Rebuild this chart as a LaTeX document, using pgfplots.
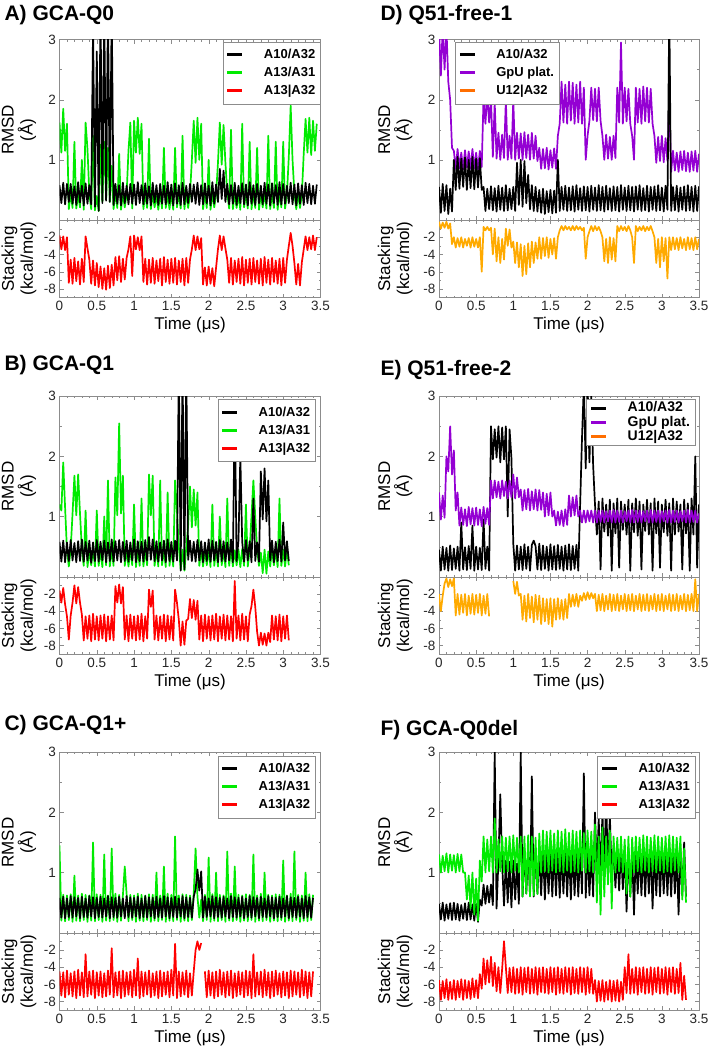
\documentclass[border=0pt]{standalone}
\usepackage{fontspec}
\setmainfont{Liberation Sans}
\usepackage{pgfplots}
\usepackage{pgfplotstable}
\pgfplotsset{compat=1.18}

\definecolor{grn}{RGB}{0,235,0}
\definecolor{pur}{RGB}{148,0,211}
\definecolor{org}{RGB}{255,170,0}
\definecolor{orgleg}{RGB}{255,110,0}
\definecolor{frame}{RGB}{140,140,140}

% columns: t = time (us), a = black RMSD, b = green/purple RMSD, c = stacking
\pgfplotstableread{
t a b c
0.000 0.58 1.62 -1.8
0.025 0.28 1.12 -3.4
0.050 0.62 1.85 -1.9
0.075 0.26 1.15 -3.5
0.100 0.60 1.60 -2.0
0.125 0.30 0.18 -7.3
0.150 0.60 0.45 -4.6
0.175 0.27 0.20 -7.4
0.200 0.56 1.30 -4.4
0.225 0.25 0.19 -7.1
0.250 0.63 0.42 -4.8
0.275 0.29 0.21 -7.5
0.300 0.57 1.00 -4.5
0.325 0.24 0.17 -7.2
0.350 0.61 1.62 -1.9
0.375 0.27 1.18 -3.3
0.400 0.58 0.44 -4.6
0.425 0.26 0.18 -7.4
0.450 3.20 1.40 -4.7
0.475 0.22 0.16 -7.6
0.500 2.80 0.40 -5.0
0.525 0.15 0.15 -7.8
0.550 3.50 1.25 -5.4
0.575 0.28 0.30 -8.0
0.600 3.50 1.30 -5.6
0.625 0.32 0.35 -8.1
0.650 3.50 1.20 -5.3
0.675 0.30 0.30 -7.9
0.700 3.50 0.90 -5.2
0.725 0.25 0.18 -7.6
0.750 0.60 0.46 -4.3
0.775 0.27 0.20 -7.0
0.800 0.58 1.10 -4.2
0.825 0.24 0.17 -7.2
0.850 0.62 0.44 -4.5
0.875 0.28 0.21 -6.9
0.900 0.57 0.43 -4.4
0.925 0.26 1.15 -3.4
0.950 0.60 1.62 -1.9
0.975 0.27 0.19 -6.5
1.000 0.59 1.65 -1.8
1.025 0.25 1.12 -3.4
1.050 0.63 1.70 -2.0
1.075 0.28 1.10 -3.5
1.100 0.58 1.60 -1.9
1.125 0.26 0.18 -7.2
1.150 0.61 0.45 -4.5
1.175 0.27 0.20 -7.5
1.200 0.56 1.35 -4.6
1.225 0.24 0.18 -7.3
1.250 0.62 0.44 -4.4
1.275 0.29 0.21 -7.4
1.300 0.58 0.42 -4.7
1.325 0.25 0.17 -7.1
1.350 0.60 0.46 -4.5
1.375 0.27 0.19 -7.6
1.400 0.57 1.20 -4.3
1.425 0.26 0.20 -7.2
1.450 0.63 0.43 -4.6
1.475 0.28 0.18 -7.4
1.500 0.59 0.45 -4.5
1.525 0.24 0.17 -7.3
1.550 0.61 1.20 -4.4
1.575 0.27 0.21 -7.5
1.600 0.58 0.44 -4.7
1.625 0.25 0.19 -7.2
1.650 0.62 1.40 -4.5
1.675 0.26 0.18 -7.6
1.700 0.57 0.45 -4.4
1.725 0.28 0.20 -7.3
1.750 0.60 0.43 -4.6
1.775 0.30 1.00 -3.4
1.800 0.59 1.65 -1.8
1.825 0.27 0.95 -3.5
1.850 0.62 1.70 -1.9
1.875 0.25 1.00 -3.4
1.900 0.58 1.60 -2.1
1.925 0.26 0.18 -7.5
1.950 0.61 0.44 -5.5
1.975 0.28 0.20 -7.6
2.000 0.57 1.00 -5.4
2.025 0.24 0.17 -7.4
2.050 0.63 0.45 -5.6
2.075 0.27 0.21 -7.7
2.100 0.59 0.43 -5.5
2.125 0.30 0.95 -3.4
2.150 0.85 1.62 -1.8
2.175 0.35 0.92 -3.5
2.200 0.82 1.58 -1.9
2.225 0.30 0.95 -3.3
2.250 0.60 0.44 -4.6
2.275 0.26 0.19 -7.3
2.300 0.58 1.50 -4.4
2.325 0.27 0.18 -7.5
2.350 0.62 0.45 -4.7
2.375 0.25 0.20 -7.2
2.400 0.57 0.42 -4.5
2.425 0.28 0.17 -7.4
2.450 0.61 1.60 -4.3
2.475 0.26 0.21 -7.6
2.500 0.59 0.44 -4.6
2.525 0.24 0.19 -7.3
2.550 0.63 1.30 -4.5
2.575 0.27 0.18 -7.5
2.600 0.58 0.46 -4.4
2.625 0.25 0.20 -7.2
2.650 0.60 1.20 -4.7
2.675 0.28 0.17 -7.4
2.700 0.57 0.43 -4.5
2.725 0.26 0.21 -7.6
2.750 0.62 0.45 -4.3
2.775 0.27 0.19 -7.3
2.800 0.59 1.40 -4.6
2.825 0.24 0.18 -7.5
2.850 0.61 0.44 -4.4
2.875 0.28 0.20 -7.2
2.900 0.58 1.30 -4.7
2.925 0.25 0.17 -7.4
2.950 0.63 0.45 -4.5
2.975 0.26 0.21 -7.6
3.000 0.60 1.30 -4.4
3.025 0.27 0.19 -7.3
3.050 0.57 0.43 -4.6
3.075 0.28 1.05 -3.0
3.100 0.62 1.90 -1.5
3.125 0.26 1.00 -3.0
3.150 0.59 0.44 -5.0
3.175 0.24 0.18 -7.5
3.200 0.61 0.45 -5.1
3.225 0.27 0.20 -7.6
3.250 0.58 0.43 -4.9
3.275 0.25 1.10 -3.4
3.300 0.62 1.68 -1.9
3.325 0.28 1.12 -3.5
3.350 0.60 1.70 -2.0
3.375 0.26 1.08 -3.4
3.400 0.57 1.65 -1.8
3.425 0.27 1.15 -3.5
3.450 0.59 1.60 -2.0
}\tA

\pgfplotstableread{
t a b c
0.000 0.58 1.20 -1.6
0.025 0.25 1.10 -3.0
0.050 0.60 1.90 -1.3
0.075 0.24 1.15 -3.2
0.100 0.57 0.44 -4.6
0.125 0.26 0.17 -7.3
0.150 0.61 0.46 -4.5
0.175 0.27 1.05 -3.0
0.200 0.56 1.68 -1.0
0.225 0.24 1.02 -3.1
0.250 0.59 1.70 -1.2
0.275 0.26 1.05 -3.0
0.300 0.62 0.45 -4.4
0.325 0.25 0.18 -7.4
0.350 0.58 1.10 -4.6
0.375 0.27 0.16 -7.2
0.400 0.60 0.43 -4.5
0.425 0.23 0.19 -7.5
0.450 0.57 0.46 -4.3
0.475 0.26 0.17 -7.3
0.500 0.61 1.10 -4.6
0.525 0.25 0.18 -7.4
0.550 0.58 0.44 -4.5
0.575 0.27 0.16 -7.2
0.600 0.60 1.00 -4.4
0.625 0.24 0.19 -7.5
0.650 0.57 1.60 -4.6
0.675 0.26 0.17 -7.3
0.700 0.62 0.45 -4.5
0.725 0.25 0.18 -7.4
0.750 0.59 1.65 -1.1
0.775 0.27 1.02 -3.0
0.800 0.61 2.55 -0.9
0.825 0.24 1.05 -3.1
0.850 0.58 1.68 -1.2
0.875 0.26 0.18 -7.3
0.900 0.60 0.44 -4.5
0.925 0.25 0.17 -7.5
0.950 0.57 0.46 -4.4
0.975 0.27 0.19 -7.2
1.000 0.62 1.20 -4.6
1.025 0.24 0.16 -7.4
1.050 0.59 0.45 -4.5
1.075 0.26 0.18 -7.3
1.100 0.58 1.30 -4.3
1.125 0.25 0.17 -7.5
1.150 0.61 0.44 -4.6
1.175 0.27 0.19 -7.2
1.200 0.66 1.70 -1.5
1.225 0.28 1.02 -3.5
1.250 0.62 1.68 -1.6
1.275 0.26 0.18 -7.3
1.300 0.59 0.45 -4.5
1.325 0.25 0.17 -7.4
1.350 0.57 1.60 -4.6
1.375 0.27 0.19 -7.2
1.400 0.60 0.44 -4.4
1.425 0.24 0.16 -7.5
1.450 0.62 1.40 -4.5
1.475 0.26 0.18 -7.3
1.500 0.58 0.46 -4.6
1.525 0.25 0.17 -7.4
1.550 0.60 1.60 -1.5
1.575 0.27 1.10 -3.0
1.600 3.50 0.50 -5.0
1.625 0.10 0.12 -8.0
1.650 3.50 0.45 -5.2
1.675 0.12 0.10 -7.9
1.700 3.50 0.48 -5.1
1.725 0.28 0.85 -4.9
1.750 0.60 1.50 -2.6
1.775 0.26 0.82 -4.8
1.800 0.58 1.45 -2.7
1.825 0.25 0.85 -5.0
1.850 0.61 1.40 -2.8
1.875 0.27 0.18 -7.3
1.900 0.59 0.45 -4.5
1.925 0.24 0.17 -7.5
1.950 0.57 0.44 -4.4
1.975 0.26 0.19 -7.2
2.000 0.62 0.46 -4.6
2.025 0.25 0.16 -7.4
2.050 0.60 1.20 -4.5
2.075 0.27 0.18 -7.3
2.100 0.58 0.45 -4.3
2.125 0.24 0.17 -7.5
2.150 0.61 1.00 -4.6
2.175 0.26 0.19 -7.2
2.200 0.59 0.44 -4.4
2.225 0.25 0.16 -7.4
2.250 0.57 1.30 -4.5
2.275 0.27 0.18 -7.3
2.300 0.62 0.46 -4.6
2.325 0.24 0.17 -7.5
2.350 2.90 0.44 -0.5
2.375 0.26 0.19 -7.2
2.400 0.60 0.45 -4.5
2.425 2.00 0.16 -7.4
2.450 0.58 0.46 -4.3
2.475 0.25 0.18 -7.3
2.500 0.61 1.20 -4.6
2.525 0.27 0.17 -7.5
2.550 0.59 0.44 -4.4
2.575 0.24 1.02 -3.4
2.600 1.30 1.60 -1.5
2.625 0.26 1.00 -3.5
2.650 0.57 0.45 -6.4
2.675 0.25 0.18 -8.0
2.700 1.75 0.40 -6.5
2.725 0.95 0.06 -7.9
2.750 1.80 0.45 -6.6
2.775 0.92 0.05 -8.0
2.800 1.60 0.42 -6.5
2.825 0.27 0.17 -7.6
2.850 0.60 0.46 -4.5
2.875 0.24 0.19 -7.3
2.900 0.58 0.44 -4.6
2.925 0.26 0.16 -7.4
2.950 0.62 1.30 -4.4
2.975 0.25 0.18 -7.5
3.000 0.90 0.45 -4.6
3.025 0.27 0.17 -7.2
3.050 0.59 0.46 -4.5
3.075 0.26 0.19 -7.4
}\tB

\pgfplotstableread{
t a b c
0.000 0.58 1.45 -4.5
0.025 0.25 0.20 -7.3
0.050 0.60 0.63 -4.6
0.075 0.24 0.19 -7.5
0.100 0.57 0.62 -4.4
0.125 0.26 0.21 -7.2
0.150 0.61 0.64 -4.7
0.175 0.25 0.18 -7.4
0.200 0.59 0.95 -4.5
0.225 0.27 0.20 -7.6
0.250 0.58 0.62 -4.3
0.275 0.24 0.19 -7.3
0.300 0.60 0.65 -4.6
0.325 0.26 0.21 -7.5
0.350 0.57 0.63 -2.5
0.375 0.25 0.18 -7.4
0.400 0.61 0.62 -4.5
0.425 0.27 0.20 -7.2
0.450 0.59 1.50 -4.4
0.475 0.24 0.19 -7.6
0.500 0.58 0.64 -4.6
0.525 0.26 0.21 -7.3
0.550 0.60 0.63 -4.5
0.575 0.25 0.18 -7.5
0.600 0.57 1.30 -4.7
0.625 0.27 0.20 -7.4
0.650 0.61 0.62 -4.4
0.675 0.24 0.19 -7.2
0.700 0.59 1.40 -1.8
0.725 0.26 0.21 -7.5
0.750 0.58 0.65 -4.6
0.775 0.25 0.18 -7.3
0.800 0.60 0.63 -4.5
0.825 0.27 0.20 -7.6
0.850 0.57 0.62 -4.4
0.875 0.24 1.10 -7.4
0.900 0.61 0.64 -4.6
0.925 0.26 0.19 -7.2
0.950 0.59 0.63 -4.5
0.975 0.25 0.21 -7.5
1.000 0.58 0.62 -4.3
1.025 0.27 0.18 -7.3
1.050 0.60 0.65 -3.0
1.075 0.24 0.20 -7.6
1.100 0.57 0.63 -4.5
1.125 0.26 0.19 -7.4
1.150 0.61 0.62 -4.6
1.175 0.25 0.21 -7.2
1.200 0.59 0.64 -4.4
1.225 0.27 0.18 -7.5
1.250 0.58 0.63 -4.7
1.275 0.24 0.20 -7.3
1.300 0.60 1.00 -4.5
1.325 0.26 0.19 -7.6
1.350 0.57 0.62 -4.4
1.375 0.25 0.21 -7.4
1.400 0.61 1.10 -4.6
1.425 0.27 0.18 -7.2
1.450 0.59 0.65 -4.5
1.475 0.24 0.20 -7.5
1.500 0.58 0.63 -4.3
1.525 0.26 0.19 -7.3
1.550 0.60 1.60 -1.3
1.575 0.25 0.21 -7.6
1.600 0.57 0.62 -4.5
1.625 0.27 0.18 -7.4
1.650 0.61 0.64 -4.6
1.675 0.24 0.20 -7.2
1.700 0.59 0.63 -4.4
1.725 0.26 0.19 -7.5
1.750 0.58 0.62 -4.7
1.775 0.25 0.21 -7.3
1.800 0.60 0.65 -4.5
1.825 0.72 1.40 -2.0
1.850 1.05 0.60 -1.0
1.875 0.70 0.25 -2.0
1.900 1.02 0.55 -1.2
1.925 0.25 0.19 nan
1.950 0.60 0.63 -4.5
1.975 0.26 0.21 -7.5
2.000 0.57 1.25 -4.4
2.025 0.27 0.18 -7.3
2.050 0.61 0.64 -4.6
2.075 0.24 0.20 -7.6
2.100 0.59 1.00 -4.5
2.125 0.26 0.19 -7.4
2.150 0.58 0.63 -4.3
2.175 0.25 0.21 -7.2
2.200 0.60 0.62 -4.6
2.225 0.27 0.18 -7.5
2.250 0.57 1.35 -4.5
2.275 0.24 0.20 -7.3
2.300 0.61 0.65 -4.4
2.325 0.26 0.19 -7.6
2.350 0.59 1.10 -4.7
2.375 0.25 0.21 -7.4
2.400 0.58 0.63 -4.5
2.425 0.27 0.18 -7.2
2.450 0.60 0.62 -4.6
2.475 0.24 0.20 -7.5
2.500 0.57 0.64 -4.4
2.525 0.26 0.19 -7.3
2.550 0.61 0.63 -4.5
2.575 0.25 0.21 -7.6
2.600 0.59 1.30 -2.5
2.625 0.27 0.18 -7.4
2.650 0.58 0.62 -4.6
2.675 0.24 0.20 -7.2
2.700 0.60 0.65 -4.5
2.725 0.26 0.19 -7.5
2.750 0.57 1.00 -4.3
2.775 0.25 0.21 -7.3
2.800 0.61 0.63 -4.6
2.825 0.27 0.18 -7.6
2.850 0.59 0.62 -4.5
2.875 0.24 0.20 -7.4
2.900 0.58 0.64 -4.4
2.925 0.26 0.19 -7.2
2.950 0.60 0.63 -4.7
2.975 0.25 0.21 -7.5
3.000 0.57 1.20 -4.5
3.025 0.27 0.18 -7.3
3.050 0.61 0.62 -4.6
3.075 0.24 0.20 -7.6
3.100 0.59 0.65 -4.4
3.125 0.26 0.19 -7.4
3.150 0.58 1.35 -4.5
3.175 0.25 0.21 -7.2
3.200 0.60 0.63 -4.6
3.225 0.27 0.18 -7.5
3.250 0.57 0.62 -4.3
3.275 0.24 0.20 -7.3
3.300 0.61 1.00 -4.5
3.325 0.26 0.19 -7.6
3.350 0.59 0.64 -4.6
3.375 0.25 0.21 -7.4
3.400 0.58 0.63 -4.5
}\tC

\pgfplotstableread{
t a b c
0.000 0.55 3.20 -0.2
0.025 0.12 2.40 -1.0
0.050 0.60 3.20 -0.3
0.075 0.15 2.50 -0.9
0.100 0.58 3.20 -0.2
0.125 0.10 2.30 -1.0
0.150 0.52 2.00 -0.4
0.175 0.14 1.20 -2.8
0.200 1.00 1.15 -2.0
0.225 0.50 0.85 -3.2
0.250 1.05 1.18 -2.1
0.275 0.52 0.86 -3.1
0.300 1.02 1.12 -2.0
0.325 0.55 0.84 -3.2
0.350 1.04 1.16 -2.2
0.375 0.50 0.87 -3.0
0.400 1.00 1.14 -2.1
0.425 0.53 0.85 -3.2
0.450 1.05 1.18 -2.0
0.475 0.51 0.86 -3.1
0.500 1.02 1.12 -2.2
0.525 0.54 0.84 -3.2
0.550 1.03 1.15 -2.0
0.575 0.50 0.88 -6.0
0.600 0.55 2.05 -0.8
0.625 0.15 1.60 -1.2
0.650 0.52 2.10 -0.8
0.675 0.18 1.62 -1.2
0.700 0.56 2.00 -0.9
0.725 0.16 1.05 -4.0
0.750 0.53 1.95 -1.0
0.775 0.14 1.02 -4.8
0.800 0.57 1.45 -2.0
0.825 0.17 1.00 -5.0
0.850 0.54 1.42 -2.2
0.875 0.15 1.03 -4.6
0.900 0.58 2.00 -1.0
0.925 0.16 1.00 -3.0
0.950 0.52 1.40 -1.1
0.975 0.18 1.02 -3.2
1.000 0.55 2.00 -2.5
1.025 0.15 1.00 -5.0
1.050 0.95 1.45 -2.6
1.075 0.25 1.02 -5.5
1.100 1.00 1.44 -2.8
1.125 0.22 1.00 -6.5
1.150 0.98 1.46 -3.0
1.175 0.28 1.03 -6.3
1.200 0.75 1.42 -2.7
1.225 0.18 1.00 -5.5
1.250 0.58 1.45 -2.5
1.275 0.15 1.02 -5.0
1.300 0.55 1.40 -2.6
1.325 0.14 0.98 -4.5
1.350 0.50 1.20 -2.0
1.375 0.12 0.85 -4.5
1.400 0.52 1.18 -2.1
1.425 0.10 0.86 -4.2
1.450 0.48 1.20 -2.0
1.475 0.13 0.84 -4.4
1.500 0.50 1.16 -2.2
1.525 0.11 0.87 -4.0
1.550 0.49 1.19 -2.1
1.575 0.12 0.85 -4.5
1.600 1.00 1.40 -2.0
1.625 0.15 1.60 -1.2
1.650 0.55 2.30 -0.7
1.675 0.17 1.62 -1.2
1.700 0.57 2.25 -0.7
1.725 0.15 1.60 -1.1
1.750 0.54 2.30 -0.8
1.775 0.16 1.65 -1.2
1.800 0.56 2.28 -0.7
1.825 0.14 1.60 -1.2
1.850 0.58 2.25 -0.7
1.875 0.17 1.62 -1.1
1.900 0.53 2.30 -0.8
1.925 0.15 1.60 -1.2
1.950 0.56 2.20 -0.9
1.975 0.16 1.00 -4.5
2.000 0.55 1.40 -2.0
2.025 0.14 1.65 -1.3
2.050 0.57 2.20 -0.7
2.075 0.17 1.66 -1.3
2.100 0.54 2.18 -0.7
2.125 0.15 1.64 -1.2
2.150 0.58 2.20 -0.8
2.175 0.16 1.65 -1.3
2.200 0.55 1.40 -2.0
2.225 0.14 1.00 -4.8
2.250 0.57 1.42 -2.2
2.275 0.17 1.02 -5.0
2.300 0.53 1.38 -2.0
2.325 0.15 1.00 -4.6
2.350 0.56 1.40 -2.1
2.375 0.16 1.03 -4.8
2.400 0.55 2.20 -0.7
2.425 0.14 1.62 -1.3
2.450 0.58 2.95 -0.7
2.475 0.17 1.60 -1.2
2.500 0.54 2.20 -0.8
2.525 0.15 1.64 -1.3
2.550 0.57 2.18 -0.7
2.575 0.16 1.60 -1.2
2.600 0.55 1.40 -2.0
2.625 0.14 1.00 -5.0
2.650 0.56 2.20 -0.7
2.675 0.17 1.62 -1.3
2.700 0.58 2.18 -0.8
2.725 0.15 1.60 -1.2
2.750 0.53 2.22 -0.7
2.775 0.16 1.64 -1.3
2.800 0.57 2.20 -0.8
2.825 0.14 1.62 -1.2
2.850 0.55 2.18 -0.7
2.875 0.17 1.60 -1.3
2.900 0.56 1.40 -2.0
2.925 0.15 0.95 -5.0
2.950 0.58 1.38 -2.2
2.975 0.16 0.98 -5.5
3.000 0.54 1.40 -2.0
3.025 0.14 0.96 -4.8
3.050 0.57 1.36 -2.1
3.075 0.17 0.98 -6.8
3.100 3.50 2.00 -2.0
3.125 0.15 0.80 -3.5
3.150 0.55 1.15 -2.0
3.175 0.16 0.82 -3.4
3.200 0.57 1.12 -2.1
3.225 0.14 0.80 -3.5
3.250 0.54 1.14 -2.0
3.275 0.17 0.83 -3.3
3.300 0.56 1.15 -2.2
3.325 0.15 0.81 -3.5
3.350 0.58 1.12 -2.0
3.375 0.16 0.80 -3.4
3.400 0.55 1.14 -2.1
3.425 0.14 0.82 -3.5
3.450 0.57 1.15 -2.0
3.475 0.15 0.80 -3.4
3.500 0.56 1.10 -2.2
}\tD

\pgfplotstableread{
t a b c
0.000 0.45 1.40 -2.0
0.025 0.10 0.95 -4.0
0.050 0.50 1.35 -2.2
0.075 0.12 0.98 -0.8
0.100 0.48 2.00 -0.2
0.125 0.10 1.75 -1.2
0.150 0.52 2.50 -0.3
0.175 0.11 1.70 -1.1
0.200 0.47 2.10 -0.2
0.225 0.13 1.10 -4.5
0.250 0.50 1.40 -2.0
0.275 0.10 0.85 -4.4
0.300 0.90 1.15 -2.1
0.325 0.12 0.86 -4.2
0.350 0.49 1.12 -2.0
0.375 0.11 0.84 -4.5
0.400 0.51 1.16 -2.2
0.425 0.13 0.87 -4.3
0.450 0.85 1.14 -2.0
0.475 0.10 0.85 -4.4
0.500 0.50 1.15 -2.1
0.525 0.12 0.86 -4.2
0.550 0.48 1.12 -2.0
0.575 0.11 0.84 -4.5
0.600 0.95 1.16 -2.2
0.625 0.13 0.88 -4.3
0.650 0.50 1.14 -2.0
0.675 0.10 0.86 -4.6
0.700 2.50 1.60 nan
0.725 1.95 1.30 nan
0.750 2.45 1.60 nan
0.775 1.98 1.32 nan
0.800 2.50 1.58 nan
0.825 1.90 1.30 nan
0.850 2.48 1.60 nan
0.875 1.95 1.34 nan
0.900 2.50 1.58 nan
0.925 1.00 1.30 nan
0.950 2.45 1.60 nan
0.975 1.97 1.32 nan
1.000 0.55 1.70 -0.5
1.025 0.10 1.30 -2.0
1.050 0.52 1.65 -0.6
1.075 0.12 1.32 -2.2
1.100 0.50 1.45 -2.0
1.125 0.11 1.10 -5.0
1.150 0.54 1.44 -2.2
1.175 0.13 1.12 -5.2
1.200 0.50 1.46 -2.0
1.225 0.10 1.10 -4.8
1.250 0.53 1.42 -2.3
1.275 0.60 1.12 -5.3
1.300 0.51 1.45 -2.1
1.325 0.12 1.10 -5.0
1.350 0.55 1.44 -2.2
1.375 0.11 1.11 -5.5
1.400 0.52 1.40 -2.5
1.425 0.13 1.00 -5.2
1.450 0.50 1.38 -2.6
1.475 0.10 1.02 -5.5
1.500 0.54 1.40 -2.5
1.525 0.12 1.00 -5.8
1.550 0.51 1.10 -2.6
1.575 0.11 0.85 -5.0
1.600 0.53 1.08 -2.5
1.625 0.13 0.86 -4.9
1.650 0.50 1.10 -2.7
1.675 0.10 0.84 -5.0
1.700 0.52 1.12 -2.6
1.725 0.12 0.86 -4.8
1.750 0.54 1.35 -2.0
1.775 0.11 1.00 -3.5
1.800 0.51 1.32 -2.1
1.825 0.13 1.02 -3.4
1.850 0.53 1.35 -2.0
1.875 0.10 1.00 -3.5
1.900 1.20 1.10 -2.2
1.925 2.30 0.90 -2.8
1.950 3.20 1.10 -1.9
1.975 1.80 0.90 -2.7
2.000 3.20 1.10 -1.8
2.025 1.90 0.92 -2.6
2.050 3.00 1.10 -1.9
2.075 1.85 0.90 -2.5
2.100 1.20 1.10 -2.0
2.125 0.70 0.90 -4.0
2.150 1.25 1.10 -2.1
2.175 0.12 0.91 -3.9
2.200 1.30 1.10 -2.0
2.225 0.75 0.90 -4.0
2.250 1.20 1.09 -2.2
2.275 0.68 0.92 -3.8
2.300 1.28 1.10 -2.0
2.325 0.10 0.90 -4.0
2.350 1.22 1.11 -2.1
2.375 0.72 0.90 -3.9
2.400 1.30 1.10 -2.0
2.425 0.15 0.91 -4.0
2.450 1.25 1.10 -2.2
2.475 0.78 0.90 -3.8
2.500 1.20 1.09 -2.0
2.525 0.70 0.92 -4.0
2.550 1.28 1.10 -2.1
2.575 0.10 0.90 -3.9
2.600 1.22 1.11 -2.0
2.625 0.74 0.90 -4.0
2.650 1.30 1.10 -2.2
2.675 0.68 0.91 -3.8
2.700 1.25 1.10 -2.0
2.725 0.12 0.90 -4.0
2.750 1.20 1.09 -2.1
2.775 0.76 0.92 -3.9
2.800 1.28 1.10 -2.0
2.825 0.70 0.90 -4.0
2.850 1.22 1.11 -2.2
2.875 0.10 0.90 -3.8
2.900 1.30 1.10 -2.0
2.925 0.72 0.91 -4.0
2.950 1.25 1.10 -2.1
2.975 0.15 0.90 -3.9
3.000 1.20 1.09 -2.0
3.025 0.74 0.92 -4.0
3.050 1.28 1.10 -2.2
3.075 0.68 0.90 -3.8
3.100 1.22 1.11 -2.0
3.125 0.10 0.90 -4.0
3.150 1.30 1.10 -2.1
3.175 0.70 0.91 -3.9
3.200 1.25 1.10 -2.0
3.225 0.75 0.90 -4.0
3.250 1.20 1.09 -2.2
3.275 0.12 0.92 -3.8
3.300 1.28 1.10 -2.0
3.325 0.72 0.90 -4.0
3.350 1.22 1.11 -2.1
3.375 0.10 0.90 -3.9
3.400 1.30 1.10 -2.0
3.425 0.70 0.91 -4.0
3.450 2.00 1.10 -0.3
3.475 0.15 0.90 -4.0
3.500 1.20 1.05 -2.0
}\tE

\pgfplotstableread{
t a b c
0.000 0.48 1.30 -5.5
0.025 0.22 1.00 -7.8
0.050 0.50 1.28 -5.6
0.075 0.20 1.02 -7.6
0.100 0.47 1.32 -5.4
0.125 0.23 1.00 -7.8
0.150 0.49 1.30 -5.7
0.175 0.21 1.03 -7.7
0.200 0.50 1.29 -5.5
0.225 0.22 1.00 -7.8
0.250 0.48 1.31 -5.6
0.275 0.20 1.02 -7.5
0.300 0.46 1.30 -5.4
0.325 0.23 1.00 -7.8
0.350 0.49 1.00 -5.5
0.375 0.21 0.55 -7.6
0.400 0.50 0.95 -5.6
0.425 0.22 0.40 -7.7
0.450 0.47 1.00 -5.3
0.475 0.20 0.30 -7.5
0.500 0.48 0.90 -5.5
0.525 0.18 0.20 -7.6
0.550 0.55 1.20 -4.8
0.575 0.45 0.85 -6.5
0.600 0.80 1.60 -3.0
0.625 0.48 1.00 -6.0
0.650 0.78 1.55 -3.2
0.675 0.50 1.02 -5.8
0.700 0.80 1.60 -2.8
0.725 0.46 1.00 -6.2
0.750 3.00 1.90 -3.5
0.775 0.40 1.00 -6.8
0.800 1.20 1.55 -4.0
0.825 2.30 1.02 -7.0
0.850 1.15 1.60 -4.2
0.875 0.45 1.00 -1.0
0.900 1.20 1.58 -4.0
0.925 0.50 1.02 -7.0
0.950 1.18 1.60 -4.1
0.975 0.42 1.00 -6.9
1.000 1.20 1.62 -4.0
1.025 0.55 1.03 -7.1
1.050 1.15 1.58 -4.2
1.075 0.48 1.00 -7.0
1.100 3.00 1.60 -4.0
1.125 0.60 0.60 -7.2
1.150 1.40 1.60 -4.1
1.175 0.65 0.65 -6.9
1.200 1.35 1.62 -4.0
1.225 0.62 0.60 -7.1
1.250 2.60 1.60 -4.2
1.275 0.60 0.62 -7.0
1.300 1.40 1.58 -4.0
1.325 0.65 0.64 -7.2
1.350 1.38 1.65 -4.1
1.375 0.62 1.00 -6.9
1.400 1.40 1.70 -4.0
1.425 0.55 1.02 -7.0
1.450 1.35 1.68 -4.2
1.475 0.65 1.00 -7.1
1.500 1.40 1.70 -4.0
1.525 0.60 1.03 -6.9
1.550 1.38 1.65 -4.1
1.575 0.62 1.00 -7.2
1.600 1.40 1.70 -4.0
1.625 0.58 1.02 -7.0
1.650 1.35 1.68 -4.2
1.675 0.65 1.00 -7.1
1.700 1.40 1.72 -4.0
1.725 0.60 1.03 -6.9
1.750 1.38 1.66 -4.1
1.775 0.55 1.00 -7.2
1.800 1.40 1.70 -4.0
1.825 0.62 1.02 -7.0
1.850 1.35 1.68 -4.2
1.875 0.60 1.00 -7.1
1.900 1.40 1.70 -4.0
1.925 0.65 1.03 -6.9
1.950 2.65 1.66 -4.1
1.975 0.58 1.00 -7.2
2.000 1.40 1.70 -4.0
2.025 0.62 1.02 -7.0
2.050 1.35 1.68 -4.2
2.075 0.60 1.00 -7.1
2.100 2.00 1.80 -5.5
2.125 0.95 0.50 -8.0
2.150 1.90 1.60 -5.6
2.175 0.90 0.30 -7.9
2.200 2.00 1.75 -5.5
2.225 1.00 0.60 -8.0
2.250 2.30 1.60 -5.7
2.275 0.90 0.80 -7.8
2.300 1.95 1.70 -5.5
2.325 0.95 0.40 -8.0
2.350 1.40 1.60 -5.6
2.375 0.75 1.00 -7.9
2.400 1.35 1.58 -5.5
2.425 0.70 1.02 -8.0
2.450 1.40 1.60 -5.7
2.475 0.72 1.00 -7.8
2.500 1.38 1.55 -4.0
2.525 0.35 0.65 -7.0
2.550 1.40 1.60 -2.5
2.575 0.60 0.60 -7.1
2.600 1.35 1.58 -4.2
2.625 0.30 1.00 -7.0
2.650 1.40 1.60 -4.0
2.675 0.65 1.02 -7.2
2.700 1.38 1.58 -4.1
2.725 0.62 1.00 -6.9
2.750 1.40 1.62 -4.0
2.775 0.60 1.03 -7.1
2.800 1.35 1.60 -4.2
2.825 0.65 1.00 -7.0
2.850 1.40 1.58 -4.0
2.875 0.40 1.02 -7.2
2.900 1.38 1.62 -4.1
2.925 0.62 1.00 -6.9
2.950 1.40 1.60 -4.0
2.975 0.60 1.03 -7.1
3.000 1.35 1.58 -4.2
3.025 0.65 1.00 -7.0
3.050 1.40 1.60 -4.0
3.075 0.62 1.02 -7.2
3.100 1.38 1.62 -4.1
3.125 0.60 1.00 -6.9
3.150 1.40 1.60 -4.0
3.175 0.65 1.03 -7.1
3.200 1.35 1.58 -4.2
3.225 0.30 1.00 -7.0
3.250 1.40 1.60 -3.5
3.275 0.62 0.55 -7.8
3.300 1.50 1.40 -5.0
3.325 0.60 0.50 -7.8
}\tF

\pgfplotsset{
  base/.style={scale only axis, xmin=0, xmax=3.5,
    axis line style={frame}, tick style={frame},
    tick align=inside, major tick length=4pt, minor tick length=2pt,
    xtick={0,0.5,...,3.5}, minor xtick={0,0.1,...,3.5},
    ticklabel style={font=\fontsize{13.5}{14}\selectfont, text=black!85},
    /pgf/number format/assume math mode=true,
    label style={font=\fontsize{17}{19}\selectfont, align=center},
    unbounded coords=jump, legend cell align=left,
    legend style={draw=frame, fill=white, font=\bfseries\fontsize{13}{13}\selectfont,
      inner xsep=3pt, inner ysep=4pt, row sep=0pt,
      nodes={text height=9.5pt, text depth=2.5pt, inner ysep=3pt}},
    legend image code/.code={\draw[#1, line width=3pt] (0pt,0pt) -- (15pt,0pt);},
  },
  rmsd/.style={base, height=180.5pt, ymin=0, ymax=3, ytick={1,2,3},
    minor ytick={0.5,1.5,2.5}, xticklabels={}, ylabel={RMSD\\(Å)}},
  stack/.style={base, height=77.5pt, ymin=-9, ymax=0, ytick={-8,-6,-4,-2},
    minor ytick={-9,-7,-5,-3,-1}, xlabel={Time (μs)}, ylabel={Stacking\\(kcal/mol)}},
  lefty/.style={width=261pt, ylabel style={at={(axis description cs:-0.155,0.5)}, anchor=center}},
  righty/.style={width=260pt, ylabel style={at={(axis description cs:-0.168,0.5)}, anchor=center}},
  d/.style={line width=1.7pt, line join=round, forget plot},
}
\newcommand\lt[1]{\hspace{18pt}#1\hspace{21pt}}
\tikzset{ttl/.style={anchor=base west, font=\bfseries\fontsize{21}{21}\selectfont}}

\begin{document}
\begin{tikzpicture}
\useasboundingbox (0pt,0pt) rectangle (711pt,-1050pt);

\node[ttl] at (1pt,-20.7pt) {A) GCA-Q0};
\node[ttl] at (377pt,-20.7pt) {D) Q51-free-1};
\node[ttl] at (1pt,-370pt) {B) GCA-Q1};
\node[ttl] at (377pt,-375pt) {E) Q51-free-2};
\node[ttl] at (1pt,-730.7pt) {C) GCA-Q1+};
\node[ttl] at (377pt,-735pt) {F) GCA-Q0del};

% ---- A
\begin{axis}[rmsd, lefty, at={(59.5pt,-220pt)}, anchor=south west,
  legend style={at={(axis description cs:1,0.988)}, anchor=north east}]
\addplot[d, grn] table[x=t, y=b] {\tA};
\addplot[d, black] table[x=t, y=a] {\tA};
\addlegendimage{black}
\addlegendimage{grn}
\addlegendimage{red}
\legend{\lt{A10/A32}, \lt{A13/A31}, \lt{A13|A32}}
\end{axis}
\begin{axis}[stack, lefty, at={(59.5pt,-220pt)}, anchor=north west]
\addplot[d, red] table[x=t, y=c] {\tA};
\end{axis}

% ---- B
\begin{axis}[rmsd, lefty, at={(59.5pt,-576.7pt)}, anchor=south west,
  legend style={at={(axis description cs:0.98,0.982)}, anchor=north east}]
\addplot[d, grn] table[x=t, y=b] {\tB};
\addplot[d, black] table[x=t, y=a] {\tB};
\addlegendimage{black}
\addlegendimage{grn}
\addlegendimage{red}
\legend{\lt{A10/A32}, \lt{A13/A31}, \lt{A13|A32}}
\end{axis}
\begin{axis}[stack, lefty, at={(59.5pt,-576.7pt)}, anchor=north west]
\addplot[d, red] table[x=t, y=c] {\tB};
\end{axis}

% ---- C
\begin{axis}[rmsd, lefty, at={(59.5pt,-932.7pt)}, anchor=south west,
  legend style={at={(axis description cs:0.98,0.981)}, anchor=north east}]
\addplot[d, grn] table[x=t, y=b] {\tC};
\addplot[d, black] table[x=t, y=a] {\tC};
\addlegendimage{black}
\addlegendimage{grn}
\addlegendimage{red}
\legend{\lt{A10/A32}, \lt{A13/A31}, \lt{A13|A32}}
\end{axis}
\begin{axis}[stack, lefty, at={(59.5pt,-932.7pt)}, anchor=north west]
\addplot[d, red] table[x=t, y=c] {\tC};
\end{axis}

% ---- D
\begin{axis}[rmsd, righty, at={(439pt,-220pt)}, anchor=south west,
  legend style={at={(axis description cs:0.062,0.988)}, anchor=north west}]
\addplot[d, pur] table[x=t, y=b] {\tD};
\addplot[d, black] table[x=t, y=a] {\tD};
\addlegendimage{black}
\addlegendimage{pur}
\addlegendimage{orgleg}
\legend{\lt{A10/A32}, \lt{GpU plat.}, \lt{U12|A32}}
\end{axis}
\begin{axis}[stack, righty, at={(439pt,-220pt)}, anchor=north west]
\addplot[d, org] table[x=t, y=c] {\tD};
\end{axis}

% ---- E
\begin{axis}[rmsd, righty, at={(439pt,-576.7pt)}, anchor=south west,
  legend style={at={(axis description cs:0.985,0.982)}, anchor=north east,
    font=\bfseries\fontsize{14}{14}\selectfont, inner ysep=1.5pt,
    nodes={text height=10pt, text depth=2.5pt, inner ysep=0.8pt}}]
\addplot[d, black] table[x=t, y=a] {\tE};
\addplot[d, pur] table[x=t, y=b] {\tE};
\addlegendimage{black}
\addlegendimage{pur}
\addlegendimage{orgleg}
\legend{\lt{A10/A32}, \lt{GpU plat.}, \lt{U12|A32}}
\end{axis}
\begin{axis}[stack, righty, at={(439pt,-576.7pt)}, anchor=north west]
\addplot[d, org] table[x=t, y=c] {\tE};
\end{axis}

% ---- F
\begin{axis}[rmsd, righty, at={(439pt,-932.7pt)}, anchor=south west,
  legend style={at={(axis description cs:0.985,0.981)}, anchor=north east}]
\addplot[d, black] table[x=t, y=a] {\tF};
\addplot[d, grn] table[x=t, y=b] {\tF};
\addlegendimage{black}
\addlegendimage{grn}
\addlegendimage{red}
\legend{\lt{A10/A32}, \lt{A13/A31}, \lt{A13|A32}}
\end{axis}
\begin{axis}[stack, righty, at={(439pt,-932.7pt)}, anchor=north west]
\addplot[d, red] table[x=t, y=c] {\tF};
\end{axis}

\end{tikzpicture}
\end{document}
